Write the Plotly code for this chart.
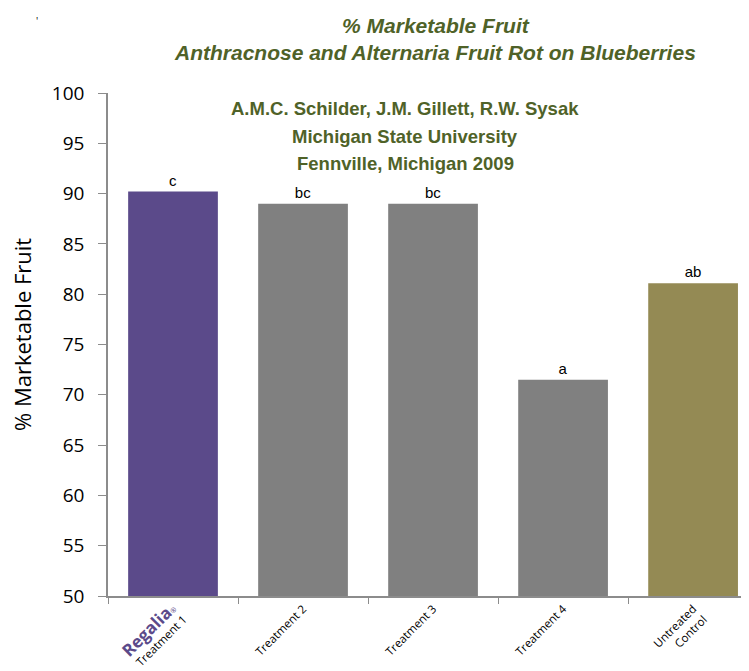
import plotly.graph_objects as go

categories = ["Treatment 1", "Treatment 2", "Treatment 3", "Treatment 4", "Untreated Control"]
values = [90.2, 89.0, 89.0, 71.5, 81.1]
letters = ["c", "bc", "bc", "a", "ab"]
bar_colors = ["#5B4A8A", "#808080", "#808080", "#808080", "#948A54"]
tick_labels = [
    "<span style='color:#5B4A8A;font-size:17px;font-weight:bold'>Regalia</span><span style='color:#5B4A8A;font-size:7px'>®</span><br>Treatment 1",
    "Treatment 2",
    "Treatment 3",
    "Treatment 4",
    "Untreated<br>Control",
]
y_ticks = [50, 55, 60, 65, 70, 75, 80, 85, 90, 95, 100]
subtitle_lines = ["A.M.C. Schilder, J.M. Gillett, R.W. Sysak", "Michigan State University", "Fennville, Michigan 2009"]

green = "#4F6228"
axis_grey = "#8C8C8C"
# page body has an 8px margin, so figure coords are window coords minus 8
L, T = 108, 93
PW = 641

fig = go.Figure()
fig.add_trace(go.Bar(
    x=categories, y=values, marker=dict(color=bar_colors, line=dict(width=0)),
    text=letters, textposition="outside", cliponaxis=False,
    textfont=dict(family="Liberation Sans, Arial", size=15, color="black"),
))

fig.update_layout(
    width=749, height=671,
    margin=dict(l=L - 8, r=8, t=T - 8, b=83),
    paper_bgcolor="white", plot_bgcolor="white",
    bargap=0.31, showlegend=False,
    font=dict(family="Open Sans, Liberation Sans", color="black"),
    xaxis=dict(
        type="category", range=[-0.5, 4.43], automargin=False,
        tickmode="array", tickvals=categories, ticktext=tick_labels,
        tickangle=-45, tickson="boundaries", ticks="outside", ticklen=6,
        tickcolor=axis_grey, showline=True, linecolor=axis_grey, linewidth=1.5,
        tickfont=dict(size=11.5, family="Open Sans, Liberation Sans", color="black"),
        showgrid=False,
    ),
    yaxis=dict(
        range=[50, 100], tickvals=y_ticks, ticks="outside", ticklen=8, automargin=False,
        tickcolor=axis_grey, showline=True, linecolor=axis_grey, linewidth=1.5,
        tickfont=dict(size=19, family="Open Sans, Liberation Sans", color="black"),
        ticklabelstandoff=10,
        showgrid=False, zeroline=False,
    ),
)

# y-axis title
fig.add_annotation(
    text="% Marketable Fruit", textangle=-90,
    xref="paper", yref="paper", x=0, y=(596 - 335) / 503, xshift=22 - L,
    xanchor="center", yanchor="middle", showarrow=False,
    font=dict(size=22, family="Open Sans, Liberation Sans", color="black"),
)

# main title
fig.add_annotation(
    text="<b><i>% Marketable Fruit<br>Anthracnose and Alternaria Fruit Rot on Blueberries</i></b>",
    xref="paper", yref="paper", x=(435 - L) / PW, y=1, yshift=T - 12, yanchor="top",
    showarrow=False, align="center",
    font=dict(family="Liberation Sans Narrow, Liberation Sans", size=21, color=green),
)

# subtitle lines
for line, yc in zip(subtitle_lines, [108, 136, 163]):
    fig.add_annotation(
        text="<b>" + line + "</b>",
        xref="paper", yref="paper", x=(405 - L) / PW, y=1, yshift=T - yc, yanchor="middle",
        showarrow=False, align="center",
        font=dict(family="Liberation Sans, Arial", size=18.5, color=green),
    )

# small stray mark at top-left
fig.add_annotation(
    text="'", xref="paper", yref="paper", x=0, y=1, xshift=34 - L, yshift=T - 12,
    showarrow=False, font=dict(size=10, color="black"),
)

fig.write_html("out.html")
